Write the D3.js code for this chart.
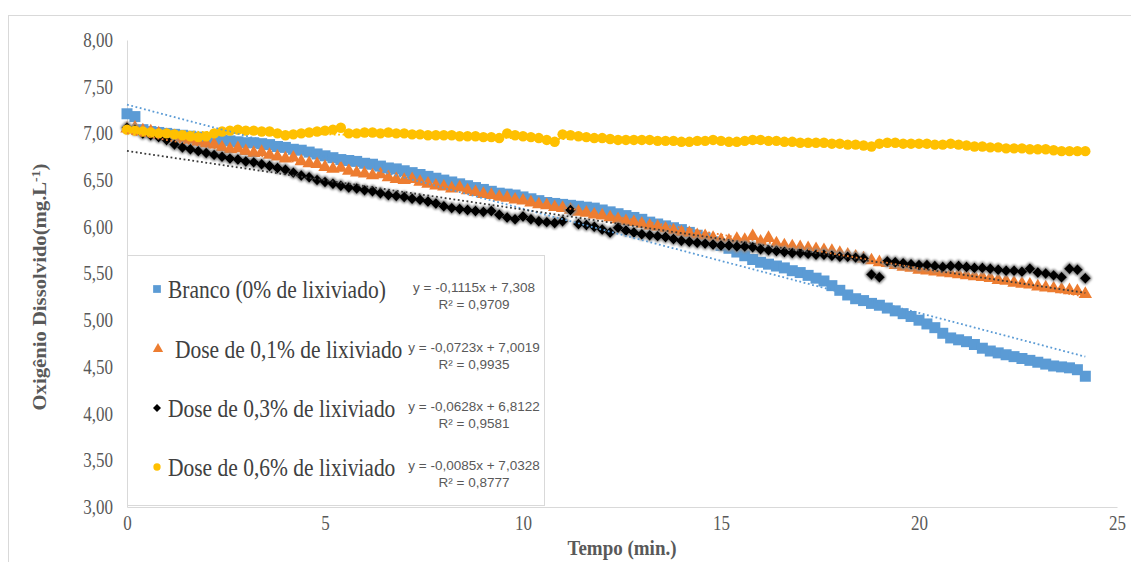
<!DOCTYPE html>
<html>
<head>
<meta charset="utf-8">
<script src="https://cdn.jsdelivr.net/npm/d3@7"></script>
<style>
  body { margin: 0; background: #fff; }
  svg { display: block; }
</style>
</head>
<body>
<div id="chart-area"></div>
<script>
// tempo (min.)
const times = [
  0, 0.2, 0.4, 0.6, 0.8, 1, 1.2, 1.4, 1.6, 1.8,
  2, 2.2, 2.4, 2.6, 2.8, 3, 3.2, 3.4, 3.6, 3.8,
  4, 4.2, 4.4, 4.6, 4.8, 5, 5.2, 5.4, 5.6, 5.8,
  6, 6.2, 6.4, 6.6, 6.8, 7, 7.2, 7.4, 7.6, 7.8,
  8, 8.2, 8.4, 8.6, 8.8, 9, 9.2, 9.4, 9.6, 9.8,
  10, 10.2, 10.4, 10.6, 10.8, 11, 11.2, 11.4, 11.6, 11.8,
  12, 12.2, 12.4, 12.6, 12.8, 13, 13.2, 13.4, 13.6, 13.8,
  14, 14.2, 14.4, 14.6, 14.8, 15, 15.2, 15.4, 15.6, 15.8,
  16, 16.2, 16.4, 16.6, 16.8, 17, 17.2, 17.4, 17.6, 17.8,
  18, 18.2, 18.4, 18.6, 18.8, 19, 19.2, 19.4, 19.6, 19.8,
  20, 20.2, 20.4, 20.6, 20.8, 21, 21.2, 21.4, 21.6, 21.8,
  22, 22.2, 22.4, 22.6, 22.8, 23, 23.2, 23.4, 23.6, 23.8,
  24, 24.2
];

// Branco (0% de lixiviado)
const branco = [
  7.21, 7.18, 7.04, 7.02, 7.01, 7.00, 6.99, 6.98, 6.97, 6.96,
  6.95, 6.94, 6.93, 6.92, 6.91, 6.90, 6.90, 6.89, 6.88, 6.86,
  6.85, 6.83, 6.82, 6.80, 6.78, 6.76, 6.74, 6.72, 6.71, 6.70,
  6.68, 6.67, 6.65, 6.63, 6.62, 6.60, 6.58, 6.56, 6.54, 6.52,
  6.50, 6.48, 6.46, 6.44, 6.42, 6.40, 6.38, 6.36, 6.35, 6.34,
  6.32, 6.30, 6.28, 6.26, 6.25, 6.24, 6.23, 6.22, 6.21, 6.20,
  6.18, 6.16, 6.14, 6.12, 6.10, 6.08, 6.05, 6.03, 6.01, 5.99,
  5.97, 5.94, 5.91, 5.88, 5.84, 5.80, 5.77, 5.73, 5.69, 5.65,
  5.62, 5.60, 5.58, 5.56, 5.53, 5.51, 5.48, 5.45, 5.42, 5.37,
  5.32, 5.27, 5.23, 5.21, 5.18, 5.16, 5.13, 5.10, 5.07, 5.04,
  5.00, 4.96, 4.92, 4.86, 4.81, 4.79, 4.77, 4.74, 4.70, 4.67,
  4.65, 4.63, 4.61, 4.59, 4.57, 4.55, 4.53, 4.51, 4.50, 4.49,
  4.47, 4.40
];

// Dose de 0,1% de lixiviado
const dose01 = [
  7.05, 7.06, 7.03, 7.02, 7.00, 6.98, 6.97, 6.95, 6.93, 6.91,
  6.89, 6.88, 6.85, 6.83, 6.84, 6.81, 6.79, 6.80, 6.77, 6.75,
  6.73, 6.74, 6.70, 6.68, 6.67, 6.64, 6.62, 6.63, 6.60, 6.58,
  6.57, 6.55, 6.56, 6.53, 6.51, 6.50, 6.51, 6.48, 6.46, 6.44,
  6.43, 6.41, 6.42, 6.39, 6.37, 6.35, 6.34, 6.32, 6.31, 6.29,
  6.28, 6.26, 6.24, 6.23, 6.21, 6.20, 6.18, 6.16, 6.15, 6.13,
  6.12, 6.10, 6.08, 6.06, 6.05, 6.03, 6.01, 6.00, 5.98, 5.96,
  5.94, 5.93, 5.91, 5.90, 5.88, 5.86, 5.85, 5.87, 5.86, 5.90,
  5.84, 5.88, 5.82, 5.80, 5.79, 5.78, 5.77, 5.76, 5.75, 5.74,
  5.72, 5.70, 5.68, 5.66, 5.64, 5.62, 5.61, 5.59, 5.57, 5.56,
  5.54, 5.53, 5.52, 5.51, 5.50, 5.49, 5.48, 5.47, 5.46, 5.45,
  5.43, 5.42, 5.40, 5.39, 5.38, 5.36, 5.35, 5.34, 5.33, 5.32,
  5.31, 5.28
];

// Dose de 0,3% de lixiviado
const dose03 = [
  7.06, 7.04, 7.00, 6.98, 6.96, 6.93, 6.88, 6.85, 6.83, 6.81,
  6.79, 6.77, 6.75, 6.73, 6.72, 6.70, 6.69, 6.67, 6.65, 6.63,
  6.61, 6.58, 6.55, 6.53, 6.50, 6.48, 6.46, 6.44, 6.42, 6.41,
  6.39, 6.38, 6.36, 6.34, 6.33, 6.32, 6.30, 6.29, 6.27, 6.25,
  6.22, 6.20, 6.19, 6.18, 6.17, 6.16, 6.17, 6.13, 6.10, 6.08,
  6.11, 6.08, 6.06, 6.05, 6.04, 6.06, 6.18, 6.03, 6.02, 6.00,
  5.97, 5.94, 5.99, 5.96, 5.94, 5.92, 5.91, 5.90, 5.89, 5.87,
  5.85, 5.84, 5.83, 5.82, 5.81, 5.80, 5.80, 5.79, 5.79, 5.78,
  5.76, 5.75, 5.74, 5.73, 5.72, 5.72, 5.71, 5.70, 5.70, 5.69,
  5.68, 5.68, 5.67, 5.66, 5.49, 5.46, 5.63, 5.62, 5.61, 5.60,
  5.59, 5.59, 5.58, 5.57, 5.58, 5.58, 5.57, 5.56, 5.56, 5.55,
  5.54, 5.53, 5.53, 5.52, 5.55, 5.51, 5.50, 5.48, 5.46, 5.55,
  5.54, 5.45
];

// Dose de 0,6% de lixiviado
const dose06 = [
  7.04, 7.03, 7.02, 7.01, 7.00, 7.00, 6.99, 6.98, 6.97, 6.96,
  6.97, 7.00, 7.02, 7.03, 7.04, 7.03, 7.03, 7.02, 7.02, 7.00,
  6.98, 6.99, 7.00, 7.01, 7.02, 7.03, 7.04, 7.06, 7.00, 7.00,
  7.01, 7.01, 7.00, 7.01, 7.00, 7.00, 6.99, 6.99, 6.98, 6.98,
  6.98, 6.98, 6.97, 6.97, 6.97, 6.96, 6.96, 6.95, 7.00, 6.98,
  6.97, 6.96, 6.95, 6.93, 6.91, 6.99, 6.98, 6.97, 6.96, 6.95,
  6.95, 6.94, 6.93, 6.93, 6.93, 6.93, 6.93, 6.92, 6.92, 6.92,
  6.91, 6.91, 6.92, 6.92, 6.93, 6.92, 6.91, 6.91, 6.92, 6.93,
  6.93, 6.92, 6.92, 6.91, 6.91, 6.90, 6.90, 6.90, 6.90, 6.89,
  6.89, 6.88, 6.88, 6.87, 6.86, 6.89, 6.90, 6.90, 6.89, 6.89,
  6.89, 6.89, 6.88, 6.88, 6.89, 6.88, 6.87, 6.86, 6.86, 6.85,
  6.85, 6.84, 6.84, 6.84, 6.83, 6.83, 6.83, 6.82, 6.81, 6.81,
  6.81, 6.81
];

const seriesNames = ["Branco (0% de lixiviado)", "Dose de 0,1% de lixiviado", "Dose de 0,3% de lixiviado", "Dose de 0,6% de lixiviado"];
const slopes = [-0.1115, -0.0723, -0.0628, -0.0085];
const intercepts = [7.308, 7.0019, 6.8122, 7.0328];
const eqLabels = ["y = -0,1115x + 7,308", "y = -0,0723x + 7,0019", "y = -0,0628x + 6,8122", "y = -0,0085x + 7,0328"];
const r2Labels = ["R² = 0,9709", "R² = 0,9935", "R² = 0,9581", "R² = 0,8777"];
const yTicks = [3, 3.5, 4, 4.5, 5, 5.5, 6, 6.5, 7, 7.5, 8];
const xTicks = [0, 5, 10, 15, 20, 25];

const colors = ["#5B9BD5", "#ED7D31", "#000000", "#FFC000"],
  trendColors = ["#5B9BD5", "#ED7D31", "#3a3a3a", "#FFC000"],
  shapes = [d3.symbolSquare, d3.symbolTriangle, d3.symbolSquare, d3.symbolCircle],
  sizes = [121, 78, 60, 85],
  legSizes = [60, 46, 32, 42],
  rotate = [0, 0, 45, 0],
  allSeries = [branco, dose01, dose03, dose06];

const W = 1131, H = 562;
const svg = d3.select("#chart-area").append("svg").attr("width", W).attr("height", H);

// glow used on the black diamonds
const defs = svg.append("defs");
const f = defs.append("filter").attr("id", "glow").attr("x", "-50%").attr("y", "-50%").attr("width", "200%").attr("height", "200%");
f.append("feMorphology").attr("operator", "dilate").attr("radius", 1).attr("in", "SourceAlpha").attr("result", "d");
f.append("feGaussianBlur").attr("in", "d").attr("stdDeviation", 1.2).attr("result", "b");
f.append("feFlood").attr("flood-color", "#8c8c8c");
f.append("feComposite").attr("in2", "b").attr("operator", "in").attr("result", "s");
const fm = f.append("feMerge");
fm.append("feMergeNode").attr("in", "s");
fm.append("feMergeNode").attr("in", "SourceGraphic");

// outer chart border
svg.append("rect")
  .attr("x", 8.5).attr("y", 15.5).attr("width", 1200).attr("height", 600)
  .attr("fill", "#fff").attr("stroke", "#d9d9d9");

//scales
const x = d3.scaleLinear().domain([0, 25]).range([127, 1117]);
const y = d3.scaleLinear().domain([3, 8]).range([507, 40]);
const fmt = d => d.toFixed(2).replace(".", ",");

//y axis
const yAxis = svg.append("g")
  .attr("transform", "translate(127,0)")
  .call(d3.axisLeft(y).tickValues(yTicks).tickSize(0).tickPadding(14).tickFormat(fmt));
yAxis.select(".domain").attr("stroke", "#d9d9d9");
yAxis.selectAll("text")
  .attr("font-family", "Liberation Serif").attr("font-size", 17).attr("fill", "#595959")
  .attr("transform", "scale(1,1.18)");

//x axis
const xAxis = svg.append("g")
  .attr("transform", "translate(0,507)")
  .call(d3.axisBottom(x).tickValues(xTicks).tickSize(0).tickPadding(11).tickFormat(d3.format("d")));
xAxis.select(".domain").attr("stroke", "#d9d9d9");
xAxis.selectAll("text")
  .attr("font-family", "Liberation Serif").attr("font-size", 17).attr("fill", "#595959")
  .attr("y", 0).attr("dy", "0.71em")
  .attr("transform", "translate(0,9) scale(1,1.2)");

//series
allSeries.forEach((vals, i) => {
  const g = svg.append("g").attr("fill", colors[i]);
  if (i === 2) g.attr("filter", "url(#glow)");
  const sym = d3.symbol().type(shapes[i]).size(sizes[i]);
  g.selectAll("path")
    .data(vals.map((v, j) => ({ t: times[j], v: v })))
    .enter()
    .append("path")
    .attr("d", sym)
    .attr("transform", d => "translate(" + x(d.t) + "," + y(d.v) + ") rotate(" + rotate[i] + ")");
});

//trendlines
const tEnd = times[times.length - 1];
allSeries.forEach((vals, i) => {
  svg.append("line")
    .attr("x1", x(0)).attr("y1", y(intercepts[i]))
    .attr("x2", x(tEnd)).attr("y2", y(intercepts[i] + slopes[i] * tEnd))
    .attr("stroke", trendColors[i])
    .attr("stroke-width", 1.8)
    .attr("stroke-dasharray", "1.8,2.6");
});

//legend
const leg = svg.append("g");
leg.append("rect")
  .attr("x", 127.5).attr("y", 255.5).attr("width", 417).attr("height", 250)
  .attr("fill", "#fff").attr("stroke", "#d9d9d9");
const rowY = [289, 349, 408, 467];
const textX = [168, 175, 168, 168];
seriesNames.forEach((name, i) => {
  const sym = d3.symbol().type(shapes[i]).size(legSizes[i]);
  leg.append("path")
    .attr("d", sym)
    .attr("fill", colors[i])
    .attr("transform", "translate(" + (i === 1 ? 158 : 157) + "," + rowY[i] + ") rotate(" + rotate[i] + ")");
  leg.append("text")
    .attr("transform", "translate(" + textX[i] + "," + rowY[i] + ") scale(1,1.22)")
    .attr("dy", "0.35em")
    .attr("font-family", "Liberation Serif")
    .attr("font-size", 21.5)
    .attr("fill", "#404040")
    .text(name);
  leg.append("text")
    .attr("x", 474).attr("y", rowY[i] - 2)
    .attr("dy", "0.35em")
    .attr("text-anchor", "middle")
    .attr("font-family", "Liberation Sans")
    .attr("font-size", 13.5)
    .attr("fill", "#595959")
    .text(eqLabels[i]);
  leg.append("text")
    .attr("x", 474).attr("y", rowY[i] + 15)
    .attr("dy", "0.35em")
    .attr("text-anchor", "middle")
    .attr("font-family", "Liberation Sans")
    .attr("font-size", 13.5)
    .attr("fill", "#595959")
    .text(r2Labels[i]);
});

//axis titles
const yt = svg.append("text")
  .attr("transform", "translate(46,287) rotate(-90) scale(1.15,1)")
  .attr("text-anchor", "middle")
  .attr("font-family", "Liberation Serif")
  .attr("font-weight", "bold")
  .attr("font-size", 18)
  .attr("fill", "#595959");
yt.append("tspan").text("Oxigênio Dissolvido(mg.L");
yt.append("tspan").attr("font-size", 12).attr("baseline-shift", "super").text("-1");
yt.append("tspan").text(")");

svg.append("text")
  .attr("transform", "translate(622,555) scale(1,1.15)")
  .attr("text-anchor", "middle")
  .attr("font-family", "Liberation Serif")
  .attr("font-weight", "bold")
  .attr("font-size", 19)
  .attr("fill", "#595959")
  .text("Tempo (min.)");
</script>
</body>
</html>
